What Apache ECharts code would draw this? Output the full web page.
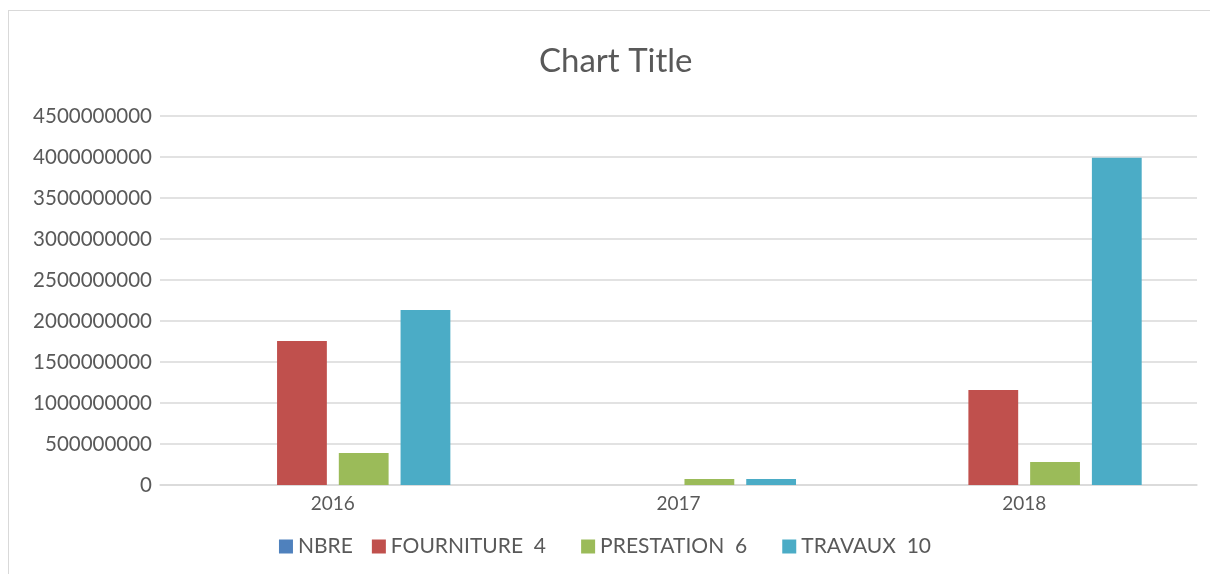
<!DOCTYPE html>
<html><head><meta charset="utf-8">
<script src="https://cdn.jsdelivr.net/npm/echarts@6/dist/echarts.min.js"></script>
<style>
html,body{margin:0;padding:0;background:#fff;overflow:hidden;}
#frame{position:absolute;left:8px;top:10px;width:1220px;height:600px;border:1px solid #d9d9d9;box-sizing:border-box;}
#c{position:absolute;left:0;top:0;width:1210px;height:574px;}
</style></head>
<body>
<div id="frame"></div>
<div id="c"></div>
<script>
const categories = ['2016', '2017', '2018'];
const seriesNames = ['NBRE', 'FOURNITURE  4', 'PRESTATION  6', 'TRAVAUX  10'];
const nbre = [20, 0, 20];
const fourniture = [1756000000, 0, 1159000000];
const prestation = [390000000, 73000000, 280000000];
const travaux = [2134000000, 73000000, 3990000000];
const colors = ['#4f81bd', '#c0504d', '#9bbb59', '#4bacc6'];

const chart = echarts.init(document.getElementById('c'));
const font = 'Lato, "Open Sans", sans-serif';
const data = [nbre, fourniture, prestation, travaux];
chart.setOption({
  animation: false,
  textStyle: {fontFamily: font},
  title: {text: 'Chart Title', left: 534, top: 40,
    textStyle: {fontFamily: font, fontSize: 33, fontWeight: 'normal', color: '#595959'}},
  legend: {bottom: 12, left: 'center', itemWidth: 14, itemHeight: 14, itemGap: 19,
    icon: 'rect',
    formatter: n => n === 'NBRE' ? n : (n.indexOf('TRAVAUX') === 0 ? n : n + '   '),
    textStyle: {fontFamily: font, fontSize: 21, color: '#595959'},
    data: seriesNames},
  grid: {left: 160, right: 13, top: 116, bottom: 89, containLabel: false},
  xAxis: {type: 'category', data: categories,
    axisLine: {lineStyle: {color: '#d9d9d9', width: 1.5}},
    axisTick: {show: false},
    axisLabel: {fontFamily: font, fontSize: 19, color: '#595959', margin: 9}},
  yAxis: {type: 'value', min: 0, max: 4500000000, interval: 500000000,
    axisLine: {show: false}, axisTick: {show: false},
    splitLine: {lineStyle: {color: '#d9d9d9', width: 1.5}},
    axisLabel: {fontFamily: font, fontSize: 20.5, color: '#595959', margin: 8,
      formatter: v => String(v)}},
  series: seriesNames.map((n, i) => ({
    name: n, type: 'bar', data: data[i], barGap: '24%', barCategoryGap: '32%',
    itemStyle: {color: colors[i]}
  }))
});
</script>
</body></html>
